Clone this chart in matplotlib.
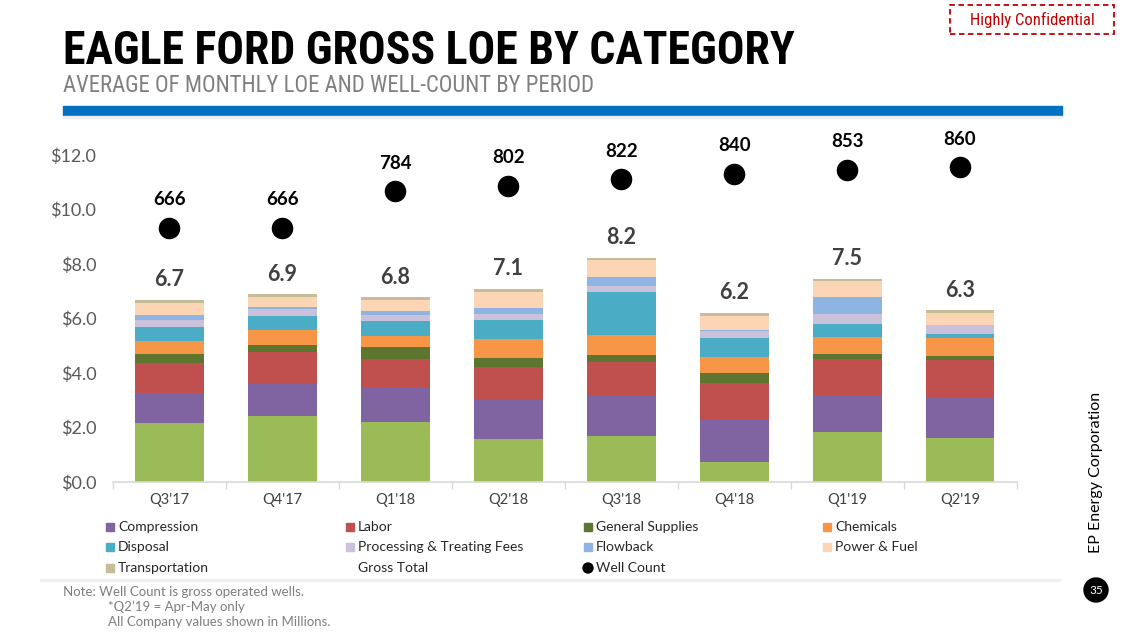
import matplotlib
matplotlib.use("Agg")
import matplotlib.pyplot as plt
from matplotlib import font_manager
from matplotlib.patches import Rectangle, Circle
from matplotlib.transforms import IdentityTransform
import numpy as np

# ---------------- data ----------------
periods = ["Q3'17", "Q4'17", "Q1'18", "Q2'18", "Q3'18", "Q4'18", "Q1'19", "Q2'19"]
base_green = [2.15, 2.42, 2.20, 1.59, 1.68, 0.74, 1.83, 1.60]
compression = [1.13, 1.18, 1.26, 1.43, 1.48, 1.57, 1.36, 1.49]
labor = [1.10, 1.16, 1.06, 1.20, 1.24, 1.32, 1.33, 1.38]
general_supplies = [0.32, 0.27, 0.42, 0.33, 0.27, 0.36, 0.18, 0.14]
chemicals = [0.49, 0.54, 0.42, 0.69, 0.72, 0.59, 0.61, 0.66]
disposal = [0.49, 0.52, 0.54, 0.69, 1.58, 0.70, 0.50, 0.16]
processing = [0.26, 0.26, 0.23, 0.24, 0.22, 0.26, 0.36, 0.33]
flowback = [0.19, 0.06, 0.16, 0.20, 0.34, 0.03, 0.63, 0.00]
power_fuel = [0.45, 0.38, 0.39, 0.61, 0.62, 0.53, 0.58, 0.45]
transportation = [0.10, 0.10, 0.10, 0.11, 0.08, 0.11, 0.07, 0.09]
gross_total = [6.7, 6.9, 6.8, 7.1, 8.2, 6.2, 7.5, 6.3]
well_count = [666, 666, 784, 802, 822, 840, 853, 860]
y_ticks = [0.0, 2.0, 4.0, 6.0, 8.0, 10.0, 12.0]

series = [
    (None, base_green, "#9BBB59"),
    ("Compression", compression, "#8064A2"),
    ("Labor", labor, "#C0504D"),
    ("General Supplies", general_supplies, "#5E7530"),
    ("Chemicals", chemicals, "#F79646"),
    ("Disposal", disposal, "#4BACC6"),
    ("Processing & Treating Fees", processing, "#CCC1DA"),
    ("Flowback", flowback, "#8EB4E3"),
    ("Power & Fuel", power_fuel, "#FCD5B5"),
    ("Transportation", transportation, "#C4BD97"),
]

# ---------------- fonts ----------------
names = {f.name for f in font_manager.fontManager.ttflist}
body = "Lato" if "Lato" in names else "DejaVu Sans"
narrow = None
for cand in ["Liberation Sans Narrow", "DejaVu Sans Condensed", "Roboto Condensed"]:
    if cand in names:
        narrow = cand
        break
if narrow is None:
    narrow = body
plt.rcParams["font.family"] = [body, "DejaVu Sans"]

W, H = 1128, 635
fig = plt.figure(figsize=(W / 100, H / 100), dpi=100)
IDT = IdentityTransform()

def fx(x):
    return x / W

def fy(y):
    return 1 - y / H

# ---------------- axes ----------------
ax_l, ax_r, ax_t, ax_b = 113, 1016.5, 155, 482
ax = fig.add_axes([fx(ax_l), fy(ax_b), fx(ax_r - ax_l), (ax_b - ax_t) / H])
x = np.arange(len(periods))
bottom = np.zeros(len(periods))
for name, vals, col in series:
    ax.bar(x, vals, width=0.61, bottom=bottom, color=col, edgecolor="none", zorder=2)
    bottom = bottom + np.array(vals)

ax.set_xlim(-0.5, len(periods) - 0.5)
ax.set_ylim(0, 12)
ax.set_yticks(y_ticks)
ax.set_yticklabels([f"${v:.1f}" for v in y_ticks], fontsize=13, color="#595959")
ax.tick_params(axis="y", length=0, pad=12)
ax.set_xticks(x)
ax.set_xticklabels(periods, fontsize=10.5, color="#404040")
ax.tick_params(axis="x", length=0, pad=8)
ax.set_xticks(np.arange(-0.5, len(periods)), minor=True)
ax.tick_params(axis="x", which="minor", length=5, color="#D9D9D9", width=1)
for s in ["top", "right", "left"]:
    ax.spines[s].set_visible(False)
ax.spines["bottom"].set_color("#D9D9D9")
ax.spines["bottom"].set_linewidth(1.2)

for xi, top, lbl in zip(x, bottom, gross_total):
    ax.annotate(f"{lbl:.1f}", (xi, top), xytext=(0, 20), textcoords="offset pixels",
                ha="center", va="center", fontsize=15.5, fontweight="bold",
                color="#404040", annotation_clip=False)

ax2 = ax.twinx()
ax2.set_ylim(-150, 900)
ax2.axis("off")
ax2.plot(x, well_count, linestyle="none", marker="o", markersize=14.5, color="black",
         clip_on=False)
for xi, wc in zip(x, well_count):
    ax2.annotate(f"{wc}", (xi, wc), xytext=(0, 28), textcoords="offset pixels",
                 ha="center", va="center", fontsize=13.5, fontweight="bold",
                 color="black", annotation_clip=False)

# ---------------- titles & decorations ----------------
t = fig.text(fx(63), fy(51), "EAGLE FORD GROSS LOE BY CATEGORY", family=[narrow, "DejaVu Sans"],
             fontsize=30, fontweight="bold", color="black", ha="left", va="center")
st = fig.text(fx(63), fy(85), "AVERAGE OF MONTHLY LOE AND WELL-COUNT BY PERIOD",
              family=[narrow, "DejaVu Sans"], fontsize=15, color="#7F7F7F",
              ha="left", va="center")
fig.canvas.draw()
r = fig.canvas.get_renderer()
for txt, target in [(t, 730), (st, 532)]:
    w = txt.get_window_extent(r).width
    txt.set_fontsize(txt.get_fontsize() * target / w)

fig.patches.append(Rectangle((fx(63), fy(115)), fx(1062 - 63), 9 / H, transform=fig.transFigure,
                             color="#0070C0", zorder=1))
fig.patches.append(Rectangle((fx(63), fy(118)), fx(1062 - 63), 2 / H, transform=fig.transFigure,
                             color="#EEEEEE", zorder=1))

fig.patches.append(Rectangle((fx(950), fy(34)), fx(164), 29 / H, transform=fig.transFigure,
                             fill=False, edgecolor="#C00000", linestyle=(0, (3, 2)), lw=1.3))
fig.text(fx(1032), fy(19.5), "Highly Confidential", fontsize=12, color="#C00000",
         ha="center", va="center", family=[narrow, "DejaVu Sans"])

fig.text(fx(1096), fy(472), "EP Energy Corporation", rotation=90, fontsize=11.5,
         color="black", ha="center", va="center")
fig.patches.append(Circle((1096, H - 590), 12, transform=IDT, color="black"))
fig.text(fx(1096), fy(590), "35", fontsize=8.5, color="white", ha="center", va="center")

# ---------------- legend (manual) ----------------
legend_rows = [
    [("Compression", "#8064A2"), ("Labor", "#C0504D"), ("General Supplies", "#5E7530"), ("Chemicals", "#F79646")],
    [("Disposal", "#4BACC6"), ("Processing & Treating Fees", "#CCC1DA"), ("Flowback", "#8EB4E3"), ("Power & Fuel", "#FCD5B5")],
    [("Transportation", "#C4BD97"), ("Gross Total", None), ("Well Count", "dot")],
]
col_x = [110, 350, 588, 827]
row_y = [527, 547, 568]
for ri, row in enumerate(legend_rows):
    for ci, (lab, col) in enumerate(row):
        cx, cy = col_x[ci], row_y[ri]
        if col == "dot":
            fig.patches.append(Circle((cx, H - cy), 5, transform=IDT, color="black"))
        elif col is not None:
            fig.patches.append(Rectangle((cx - 4, H - cy - 4), 8, 8, transform=IDT, color=col))
        fig.text(fx(cx + 8), fy(cy), lab, fontsize=10, color="#262626",
                 ha="left", va="center")

fig.patches.append(Rectangle((fx(40), fy(581)), fx(1020), 2 / H, transform=fig.transFigure,
                             color="#F0F0F0", zorder=0))

# ---------------- notes ----------------
fig.text(fx(63), fy(592), "Note: Well Count is gross operated wells.", fontsize=9.5,
         color="#7F7F7F", ha="left", va="center")
fig.text(fx(108), fy(607), "*Q2\u201919 = Apr-May only", fontsize=9.5,
         color="#7F7F7F", ha="left", va="center")
fig.text(fx(108), fy(622), "All Company values shown in Millions.", fontsize=9.5,
         color="#7F7F7F", ha="left", va="center")

fig.savefig("out.png", dpi=100)
